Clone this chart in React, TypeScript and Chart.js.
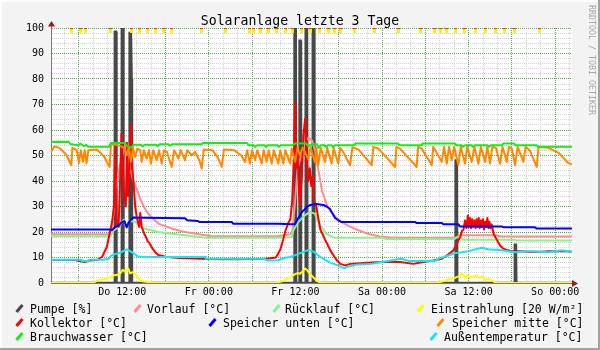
import React, { useEffect, useRef } from 'react';
import { Chart, registerables } from 'chart.js';

Chart.register(...registerables);

const MONO = "'DejaVu Sans Mono', 'Liberation Mono', monospace";
const TITLE = 'Solaranlage letzte 3 Tage';
const WATERMARK = 'RRDTOOL / TOBI OETIKER';

// x axis: hours since Thursday 00:00
const X_MIN = 2.13;
const X_MAX = 74.33;
const xLabelHours = [12, 24, 36, 48, 60, 72];
const xLabelTexts = ['Do 12:00', 'Fr 00:00', 'Fr 12:00', 'Sa 00:00', 'Sa 12:00', 'So 00:00'];

const seriesLabels = [
  'Pumpe [%]', 'Vorlauf [°C]', 'Rücklauf [°C]', 'Einstrahlung [20 W/m²]',
  'Kollektor [°C]', 'Speicher unten [°C]', 'Speicher mitte [°C]', 'Brauchwasser [°C]', 'Außentemperatur [°C]',
];

const pumpeT = [2.13, 10.93, 10.98, 11.15, 11.2, 11.9, 11.95, 12.12, 12.17, 12.98, 13.03, 13.2, 13.3, 13.35, 35.83, 35.88, 36.05, 36.1, 36.53, 36.58, 36.72, 36.77, 37.38, 37.43, 37.6, 37.65, 38.36, 38.41, 38.58, 38.63, 58.16, 58.21, 58.37, 58.42, 66.36, 66.41, 66.56, 66.61, 74.33];
const pumpeV = [0, 0, 98.5, 98.5, 0, 0, 100, 100, 0, 0, 98, 98, 80, 0, 0, 100, 100, 0, 0, 95, 95, 0, 0, 100, 100, 0, 0, 100, 100, 0, 0, 48, 48, 0, 0, 15, 15, 0, 0];

const vorlaufT = [2.13, 10.3, 10.6, 10.9, 11.2, 11.6, 12.0, 12.5, 12.9, 13.1, 13.5, 14.0, 14.5, 15.0, 15.5, 16.0, 17.0, 18.9, 20.7, 23.5, 24.4, 33.6, 35.3, 35.6, 35.9, 36.3, 36.8, 37.3, 37.8, 38.3, 38.7, 39.2, 39.7, 40.3, 40.9, 41.7, 42.6, 44.0, 45.9, 47.5, 49.5, 58.3, 58.6, 59.0, 63.8, 64.6, 74.33];
const vorlaufV = [19.1, 19.1, 22, 30, 38, 45, 50, 55, 52, 45, 40.5, 37, 33, 30, 27.5, 26, 23.3, 21.3, 20, 18.7, 18.3, 18.3, 19.1, 20.6, 30, 45, 50, 55, 57, 56, 52, 44, 36, 31, 28, 25.5, 23.5, 21.5, 19.4, 18.3, 17.7, 17.7, 18.5, 18.7, 18.7, 18.2, 18.2];

const ruecklaufT = [2.13, 10.4, 10.8, 11.5, 12.2, 12.6, 12.9, 13.8, 14.2, 15.1, 16.1, 17.0, 18.9, 20.7, 23.5, 33.6, 35.5, 35.7, 36.4, 37.3, 38.0, 38.7, 39.1, 39.6, 40.3, 41.0, 41.5, 48.0, 48.5, 58.1, 58.3, 59.0, 59.2, 66.4, 66.6, 74.33];
const ruecklaufV = [18.3, 18.3, 20.6, 21.9, 24.8, 21.9, 24.5, 23.9, 22.8, 21.3, 20.6, 20.0, 19.3, 18.7, 17.7, 17.7, 18.0, 20.6, 23.9, 26.5, 27.8, 27.2, 24.5, 21.9, 19.3, 18.3, 17.7, 17.7, 17.3, 17.3, 17.9, 17.9, 17.0, 17.0, 16.7, 16.7];

const einstrahlungT = [2.13, 8.0, 8.5, 9.85, 10.3, 10.76, 11.3, 11.69, 12.07, 12.4, 12.84, 13.1, 13.54, 14.0, 14.46, 15.0, 15.85, 16.5, 33.3, 34.3, 34.9, 35.26, 35.95, 36.3, 36.64, 37.1, 37.33, 37.56, 38.03, 38.49, 38.95, 39.41, 39.8, 55.5, 56.5, 57.43, 58.12, 58.58, 59.05, 59.28, 59.51, 59.97, 60.2, 60.66, 61.13, 61.59, 61.82, 62.28, 62.74, 63.21, 63.67, 64.13, 74.33];
const einstrahlungV = [0, 0, 1.0, 1.6, 2.2, 2.9, 3.2, 3.6, 5.2, 4.4, 5.6, 3.8, 4.3, 2.9, 1.0, 0.6, 0.3, 0, 0, 0.8, 1.8, 2.2, 3.5, 3.9, 3.6, 4.8, 5.7, 5.2, 3.5, 2.2, 0.9, 0.2, 0, 0, 0.7, 1.6, 2.0, 2.6, 3.6, 3.2, 2.0, 2.95, 2.0, 2.6, 2.95, 2.0, 2.6, 1.25, 1.6, 1.0, 0.3, 0, 0];

const kollektorT = [2.13, 4.5, 5.5, 6.0, 6.8, 7.5, 8.5, 9.2, 9.85, 10.3, 10.6, 10.85, 11.0, 11.2, 11.5, 11.7, 11.9, 12.1, 12.3, 12.5, 12.65, 12.8, 13.0, 13.2, 13.4, 13.6, 13.8, 14.0, 14.2, 14.35, 14.5, 14.7, 14.9, 15.1, 15.3, 15.5, 15.8, 16.2, 16.6, 17.0, 18.0, 19.0, 20.0, 22.0, 24.0, 26.0, 28.0, 30.0, 32.0, 33.3, 33.9, 34.3, 34.56, 35.0, 35.3, 35.55, 35.8, 35.95, 36.1, 36.3, 36.5, 36.65, 36.9, 37.1, 37.35, 37.6, 37.8, 38.0, 38.2, 38.4, 38.6, 38.9, 39.2, 39.45, 39.8, 40.1, 40.4, 40.8, 41.3, 41.7, 42.2, 42.9, 43.6, 45.9, 48.0, 50.5, 52.35, 53.7, 55.1, 56.3, 57.0, 57.9, 58.36, 58.82, 59.1, 59.3, 59.5, 59.7, 59.9, 60.05, 60.2, 60.35, 60.5, 60.65, 60.8, 60.95, 61.1, 61.25, 61.4, 61.55, 61.7, 61.85, 62.0, 62.15, 62.3, 62.45, 62.6, 62.75, 62.9, 63.05, 63.2, 63.5, 63.8, 64.1, 64.4, 64.8, 65.3, 66.0, 67.0, 68.3, 70.1, 71.1, 73.1, 74.33];
const kollektorV = [9.0, 9.0, 9.0, 8.6, 8.2, 8.8, 9.0, 10.2, 14.0, 20.0, 24.0, 30.0, 54.0, 25.0, 22.0, 40.0, 58.5, 45.0, 33.0, 30.0, 55.0, 34.0, 45.0, 62.0, 45.0, 38.0, 30.0, 26.0, 23.5, 22.0, 27.5, 22.0, 20.5, 19.0, 18.0, 16.5, 15.5, 13.5, 12.0, 11.0, 10.3, 10.0, 9.8, 9.6, 9.4, 9.3, 9.3, 9.4, 9.5, 10.0, 13.0, 17.0, 20.0, 23.5, 25.0, 32.0, 50.0, 70.9, 45.0, 52.0, 35.0, 30.0, 42.0, 58.0, 64.4, 48.0, 40.0, 45.0, 38.0, 42.0, 32.0, 30.0, 25.0, 21.0, 19.0, 17.0, 15.4, 13.0, 10.8, 9.0, 7.5, 6.9, 7.5, 7.9, 8.2, 8.2, 7.5, 8.2, 8.8, 9.5, 10.8, 12.8, 15.4, 18.0, 20.5, 21.0, 24.5, 21.5, 26.5, 22.0, 25.5, 21.5, 25.0, 22.0, 24.5, 21.5, 25.0, 22.0, 25.5, 21.5, 24.5, 22.0, 25.0, 21.0, 24.0, 22.0, 25.5, 21.5, 24.0, 21.5, 23.0, 19.0, 17.5, 16.0, 14.5, 13.5, 13.0, 12.5, 12.5, 12.3, 12.3, 12.5, 12.5, 12.3];

const speicherUntenT = [2.13, 10.3, 10.6, 11.0, 11.5, 11.93, 12.3, 12.62, 12.9, 13.2, 13.54, 15.0, 20.7, 21.0, 22.5, 22.7, 27.2, 27.4, 33.6, 35.5, 35.95, 36.4, 36.87, 37.56, 38.03, 38.95, 39.87, 40.3, 40.8, 41.0, 41.3, 41.5, 41.95, 42.4, 52.6, 52.8, 56.3, 56.5, 58.6, 58.8, 64.6, 64.8, 69.2, 69.4, 74.33];
const speicherUntenV = [21.0, 21.0, 20.8, 21.9, 22.5, 23.8, 24.3, 21.8, 23.8, 24.8, 25.7, 25.6, 25.4, 24.6, 24.3, 23.9, 23.9, 23.2, 23.2, 23.0, 23.1, 25.5, 27.7, 29.7, 30.6, 31.0, 30.6, 30.0, 29.0, 27.9, 26.5, 25.5, 24.6, 23.9, 23.9, 23.5, 23.5, 23.0, 23.0, 22.2, 22.2, 21.9, 21.9, 21.4, 21.4];

const speicherMitteT = [2.13, 2.6, 3.3, 4.2, 4.95, 5.1, 5.7, 6.0, 6.25, 6.55, 6.8, 7.05, 7.3, 8.5, 9.5, 10.25, 10.45, 11.5, 12.3, 12.62, 12.9, 13.22, 13.5, 13.77, 14.1, 14.5, 14.7, 15.0, 15.39, 15.7, 15.99, 16.3, 16.78, 17.1, 17.47, 17.8, 18.2, 18.86, 19.2, 19.78, 20.1, 20.7, 21.0, 21.63, 22.1, 22.7, 23.01, 23.3, 24.5, 25.3, 25.79, 26.1, 27.5, 28.5, 29.02, 29.3, 29.71, 30.0, 30.41, 30.7, 31.33, 31.6, 32.02, 32.3, 32.72, 33.0, 33.64, 33.9, 34.33, 34.6, 35.26, 35.5, 35.95, 36.3, 36.64, 37.0, 37.79, 38.1, 38.72, 38.9, 39.18, 39.5, 40.11, 40.4, 41.03, 41.3, 41.95, 42.2, 42.5, 43.57, 43.9, 44.73, 46.57, 46.8, 47.5, 49.81, 50.0, 50.5, 52.81, 53.0, 53.5, 54.89, 55.1, 56.28, 56.6, 56.97, 57.3, 57.66, 58.0, 58.59, 58.9, 59.51, 59.8, 60.43, 60.8, 61.36, 61.7, 62.28, 62.6, 62.97, 63.3, 63.8, 64.36, 64.7, 65.28, 65.6, 66.0, 66.44, 66.8, 67.59, 67.9, 68.5, 69.44, 69.7, 71.06, 72.5, 73.83, 74.33];
const speicherMitteV = [51.4, 53.5, 53.0, 50.5, 46.2, 53.0, 52.1, 47.0, 52.1, 47.5, 52.1, 47.0, 52.1, 52.4, 49.5, 45.5, 54.5, 54.0, 53.0, 50.1, 53.5, 47.5, 53.0, 49.4, 52.7, 52.1, 47.5, 52.1, 48.8, 52.1, 46.8, 52.1, 48.1, 52.1, 46.8, 52.1, 51.4, 45.5, 52.1, 48.8, 52.1, 48.1, 52.1, 50.1, 51.4, 48.0, 44.9, 52.4, 52.1, 49.0, 45.5, 52.4, 52.1, 50.0, 47.5, 52.1, 46.8, 52.1, 48.1, 52.1, 46.8, 52.1, 47.5, 52.1, 46.8, 52.1, 46.8, 52.1, 46.8, 52.1, 46.8, 52.7, 47.5, 53.2, 50.0, 53.2, 48.6, 53.2, 47.3, 53.0, 46.2, 53.0, 47.5, 53.0, 46.8, 53.0, 46.8, 53.0, 52.0, 46.2, 53.2, 52.4, 46.2, 53.4, 52.7, 45.5, 53.4, 52.7, 45.5, 53.4, 52.7, 46.2, 53.4, 47.5, 53.4, 46.8, 53.4, 48.1, 53.4, 46.2, 53.4, 46.8, 53.4, 47.5, 53.4, 46.8, 53.4, 47.5, 53.4, 46.8, 53.4, 53.0, 46.8, 53.4, 47.5, 53.4, 52.7, 46.2, 53.4, 47.5, 53.4, 52.0, 45.5, 53.4, 53.0, 51.0, 47.0, 46.5];

const brauchwasserT = [2.13, 4.6, 4.8, 5.9, 6.2, 6.7, 7.0, 7.3, 10.2, 10.4, 12.3, 12.6, 13.2, 13.6, 14.6, 14.8, 15.1, 16.7, 16.9, 17.2, 18.4, 18.6, 18.9, 23.0, 23.2, 29.3, 29.5, 30.2, 30.4, 30.7, 31.7, 31.9, 32.2, 33.5, 33.7, 34.0, 35.5, 36.0, 37.5, 37.8, 38.2, 39.0, 39.2, 39.5, 40.0, 40.2, 40.5, 41.0, 41.2, 41.5, 44.2, 44.3, 50.2, 50.4, 53.5, 53.6, 58.1, 58.3, 59.0, 59.2, 59.5, 60.4, 60.6, 60.9, 62.6, 62.8, 63.1, 64.6, 64.8, 66.3, 66.5, 69.4, 69.7, 74.33];
const brauchwasserV = [55.3, 55.3, 54.5, 54.0, 54.7, 53.6, 54.2, 53.4, 53.4, 54.9, 54.9, 54.0, 53.0, 54.2, 54.2, 53.6, 54.2, 54.2, 53.6, 54.4, 54.4, 53.8, 54.4, 54.4, 54.9, 54.9, 54.0, 54.0, 53.4, 54.0, 54.0, 53.4, 54.0, 54.0, 53.4, 54.0, 54.0, 54.7, 54.7, 53.6, 54.4, 54.4, 53.0, 54.0, 54.0, 53.4, 54.0, 54.0, 53.4, 54.0, 54.0, 54.7, 54.7, 54.0, 54.0, 54.7, 54.7, 54.0, 54.0, 53.4, 54.0, 54.0, 53.4, 54.0, 54.0, 53.4, 54.0, 54.0, 54.7, 54.7, 54.0, 54.0, 53.4, 53.4];

const aussenT = [2.13, 6.3, 6.4, 7.3, 7.4, 9.4, 10.1, 10.5, 11.2, 11.9, 12.6, 13.1, 13.5, 14.2, 15.2, 23.5, 23.6, 31.6, 32.2, 33.6, 34.6, 35.3, 36.5, 37.8, 38.5, 39.4, 40.3, 40.8, 41.5, 42.4, 42.9, 43.3, 44.7, 46.6, 48.0, 50.7, 51.7, 55.3, 55.8, 57.2, 58.1, 60.0, 61.8, 62.7, 64.6, 66.4, 68.3, 71.1, 72.9, 74.33];
const aussenV = [9.1, 9.1, 8.6, 8.6, 9.1, 9.1, 9.5, 10.8, 11.5, 12.1, 13.2, 12.5, 11.7, 10.4, 10.2, 10.2, 9.5, 9.5, 8.8, 8.9, 9.9, 10.2, 11.5, 13.0, 12.3, 10.3, 8.8, 8.0, 7.3, 6.2, 5.9, 6.5, 7.3, 7.5, 8.2, 9.5, 8.6, 8.6, 9.5, 10.8, 11.7, 12.5, 13.8, 13.2, 12.8, 12.1, 12.5, 12.1, 12.8, 12.3];

// small event ticks drawn at the top edge
const markT = [5.0, 6.15, 6.98, 10.31, 13.22, 14.37, 15.53, 16.68, 17.69, 18.86, 23.02, 26.38, 29.61, 30.17, 31.19, 32.25, 33.41, 34.56, 35.63, 36.88, 38.03, 39.32, 40.56, 41.4, 42.19, 44.13, 46.9, 50.27, 53.27, 55.26, 56.05, 56.97, 58.12, 59.41, 60.99, 62.28, 63.67, 64.92, 66.3, 69.77];
const MARK_Y = 99.2;

const seriesT = [pumpeT, vorlaufT, ruecklaufT, einstrahlungT, kollektorT, speicherUntenT, speicherMitteT, brauchwasserT, aussenT];
const seriesV = [pumpeV, vorlaufV, ruecklaufV, einstrahlungV, kollektorV, speicherUntenV, speicherMitteV, brauchwasserV, aussenV];

// styles
const seriesColors = ['#484848', '#FF8C8C', '#8CF08C', '#FFFF00', '#FF0000', '#0000FF', '#FF8800', '#11EE11', '#16E6F0'];
const legendLayout = [
  { mx: 15, row: 0, tx: 30 }, { mx: 133, row: 0, tx: 147 }, { mx: 272, row: 0, tx: 285 }, { mx: 416, row: 0, tx: 431 },
  { mx: 15, row: 1, tx: 30 }, { mx: 208, row: 1, tx: 223 }, { mx: 436, row: 1, tx: 452 },
  { mx: 15, row: 2, tx: 30 }, { mx: 429, row: 2, tx: 444 },
];
const legendBaselines = [312.5, 326.5, 340.5];

const rrdPlugin = {
  id: 'rrdLook',
  beforeDraw(chart: any) {
    const { ctx, chartArea: a, width, height } = chart;
    ctx.save();
    ctx.fillStyle = '#F3F3F3';
    ctx.fillRect(0, 0, width, height);
    ctx.fillStyle = '#FDFDFD';
    ctx.fillRect(0, 0, width, 2);
    ctx.fillRect(0, 0, 2, height);
    ctx.fillStyle = '#A2A2A2';
    ctx.fillRect(0, height - 2, width, 2);
    ctx.fillRect(width - 2, 0, 2, height);
    ctx.fillStyle = '#FFFFFF';
    ctx.fillRect(a.left, a.top, a.right - a.left, a.bottom - a.top);
    ctx.restore();
  },
  afterDraw(chart: any) {
    const { ctx, chartArea: a } = chart;
    ctx.save();
    // title
    ctx.fillStyle = '#000';
    ctx.font = `13.2px ${MONO}`;
    ctx.textAlign = 'center';
    ctx.textBaseline = 'alphabetic';
    ctx.fillText(TITLE, 300, 25);
    // watermark
    ctx.save();
    ctx.translate(591, 5);
    ctx.rotate(Math.PI / 2);
    ctx.font = `8.3px ${MONO}`;
    ctx.fillStyle = '#A8A8A8';
    ctx.textAlign = 'left';
    ctx.textBaseline = 'middle';
    ctx.fillText(WATERMARK, 0, 0);
    ctx.restore();
    // axis arrows
    const ax = Math.round(a.left) + 0.5;
    const ay = Math.round(a.bottom) + 0.5;
    ctx.strokeStyle = '#7A7A7A';
    ctx.lineWidth = 1;
    ctx.beginPath();
    ctx.moveTo(ax, a.top);
    ctx.lineTo(ax, a.top - 2);
    ctx.stroke();
    ctx.fillStyle = '#A01818';
    ctx.beginPath();
    ctx.moveTo(ax, a.top - 7);
    ctx.lineTo(ax - 3.5, a.top - 1.5);
    ctx.lineTo(ax + 3.5, a.top - 1.5);
    ctx.closePath();
    ctx.fill();
    ctx.beginPath();
    ctx.moveTo(a.right + 6, ay);
    ctx.lineTo(a.right, ay - 3.5);
    ctx.lineTo(a.right, ay + 3.5);
    ctx.closePath();
    ctx.fill();
    // legend
    ctx.font = `11.5px ${MONO}`;
    ctx.textAlign = 'left';
    ctx.textBaseline = 'alphabetic';
    chart.data.datasets.forEach((ds: any, i: number) => {
      const slot = legendLayout[i];
      if (!slot) return;
      const base = legendBaselines[slot.row];
      ctx.strokeStyle = ds.borderColor;
      ctx.lineWidth = 3;
      ctx.lineCap = 'butt';
      ctx.beginPath();
      ctx.moveTo(slot.mx + 1.5, base - 0.5);
      ctx.lineTo(slot.mx + 7.5, base - 7.5);
      ctx.stroke();
      ctx.fillStyle = '#000';
      ctx.fillText(ds.label, slot.tx, base);
    });
    ctx.restore();
  },
};

export default function App() {
  const ref = useRef<HTMLCanvasElement>(null);
  useEffect(() => {
    const canvas = ref.current;
    if (!canvas) return;
    const mark = document.createElement('canvas');
    mark.width = 3;
    mark.height = 6;
    const mctx = mark.getContext('2d')!;
    mctx.fillStyle = '#FFF000';
    mctx.fillRect(0, 0, 3, 6);
    mctx.fillStyle = '#F03C1E';
    mctx.fillRect(0, 0, 3, 2);

    const datasets: any[] = seriesT.map((t, i) => ({
      label: seriesLabels[i],
      data: t.map((x, j) => ({ x, y: seriesV[i][j] })),
      borderColor: seriesColors[i],
      backgroundColor: seriesColors[i],
      borderWidth: i === 0 ? 2.5 : 2,
      borderJoinStyle: i === 0 ? 'miter' : 'round',
      pointRadius: 0,
      tension: 0,
      fill: false,
      order: 10 - i,
    }));
    datasets.push({
      label: '',
      data: markT.map((x) => ({ x, y: MARK_Y })),
      showLine: false,
      pointStyle: mark,
      pointRadius: 3,
      order: 0,
    });

    const gridHours: number[] = [];
    for (let h = 4; h <= 74; h += 2) gridHours.push(h);

    const chart = new Chart(canvas, {
      type: 'line',
      data: { datasets },
      options: {
        animation: false,
        responsive: false,
        devicePixelRatio: 1,
        events: [],
        layout: { padding: { left: 0, top: 28, right: 28, bottom: 47 } },
        plugins: { legend: { display: false }, tooltip: { enabled: false }, title: { display: false } },
        scales: {
          x: {
            type: 'linear',
            min: X_MIN,
            max: X_MAX,
            afterBuildTicks: (s: any) => { s.ticks = gridHours.map((v) => ({ value: v })); },
            afterFit: (s: any) => { s.height = 20; },
            ticks: {
              autoSkip: false,
              maxRotation: 0,
              minRotation: 0,
              padding: 3,
              color: '#000',
              font: { family: MONO, size: 10 },
              callback: (v: any) => {
                const k = xLabelHours.indexOf(Number(v));
                return k >= 0 ? xLabelTexts[k] : '';
              },
            },
            grid: {
              drawTicks: false,
              lineWidth: 1,
              color: (c: any) => (c.tick && c.tick.value % 6 === 0 ? '#4CAF4C' : '#D2D2D2'),
            },
            border: { display: true, color: '#7A7A7A', width: 1, dash: [1, 1] },
          },
          y: {
            min: 0,
            max: 100,
            afterFit: (s: any) => { s.width = 51; },
            ticks: {
              stepSize: 2,
              autoSkip: false,
              padding: 7,
              color: '#000',
              font: { family: MONO, size: 10 },
              callback: (v: any) => (Number(v) % 10 === 0 ? String(v) : ''),
            },
            grid: {
              drawTicks: false,
              lineWidth: 1,
              color: (c: any) => {
                const v = c.tick ? c.tick.value : 0;
                if (v === 0) return 'rgba(0,0,0,0)';
                return v % 10 === 0 ? '#4CAF4C' : '#D2D2D2';
              },
            },
            border: { display: true, color: '#7A7A7A', width: 1, dash: [1, 1] },
          },
        },
      } as any,
      plugins: [rrdPlugin],
    });
    return () => chart.destroy();
  }, []);

  return (
    <div style={{ position: 'fixed', left: 0, top: 0, width: 600, height: 350 }}>
      <canvas ref={ref} width={600} height={350} style={{ display: 'block', width: 600, height: 350 }} />
    </div>
  );
}
